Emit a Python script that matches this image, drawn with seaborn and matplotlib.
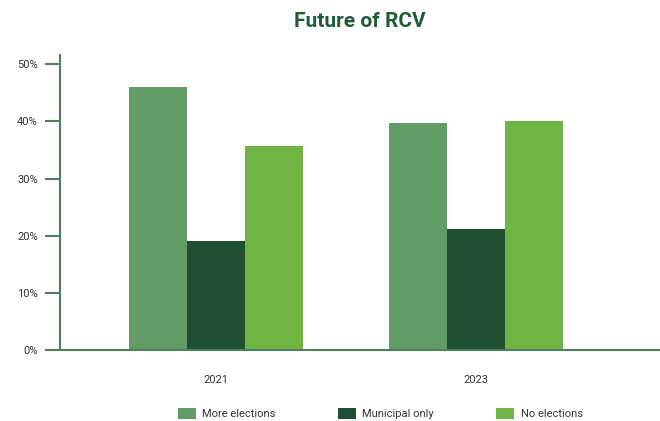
import matplotlib
matplotlib.use("Agg")
import matplotlib.pyplot as plt
import seaborn as sns
import pandas as pd
from matplotlib.ticker import FuncFormatter
from matplotlib.patches import Patch

years = ["2021", "2023"]
series = ["More elections", "Municipal only", "No elections"]
more_elections = [46.0, 39.7]
municipal_only = [19.1, 21.2]
no_elections = [35.7, 40.0]
colors = ["#629C65", "#1F4E33", "#6FB544"]

rows = []
for s, vals in zip(series, [more_elections, municipal_only, no_elections]):
    for y, v in zip(years, vals):
        rows.append({"Year": y, "Series": s, "Value": v})
df = pd.DataFrame(rows)

sns.set_theme(style="white")
plt.rcParams['font.family'] = ['Roboto', 'DejaVu Sans']

fig = plt.figure(figsize=(6.6, 4.21), dpi=100)
ax = fig.add_axes([0.0909, 0.1686, 0.9091, 0.7004])
sns.barplot(data=df, x="Year", y="Value", hue="Series", palette=colors,
            width=0.67, gap=0, saturation=1, ax=ax, legend=False,
            linewidth=0, edgecolor="none")

spine_c = "#4F7F5F"
ax.set_xlim(-0.6, 1.708)
ax.set_ylim(0, 51.6)
ax.set_yticks([0, 10, 20, 30, 40, 50])
ax.yaxis.set_major_formatter(FuncFormatter(lambda v, p: f"{int(v)}%"))
for s in ["top", "right"]:
    ax.spines[s].set_visible(False)
for s in ["left", "bottom"]:
    ax.spines[s].set_color(spine_c)
    ax.spines[s].set_linewidth(1.5)
ax.tick_params(axis="y", length=11, width=1.5, color=spine_c, labelsize=8, labelcolor="#333333", pad=5, left=True)
ax.tick_params(axis="x", length=0, labelsize=8, labelcolor="#333333", pad=18)
ax.set_xlabel("")
ax.set_ylabel("")
ax.grid(False)

fig.text(0.545, 0.95, "Future of RCV", ha="center", va="center",
         fontsize=15, fontweight="bold", color="#1F5C36")

handles = [Patch(facecolor=c, edgecolor="none", label=s) for c, s in zip(colors, series)]
fig.legend(handles=handles, loc="center", bbox_to_anchor=(0.576, 0.018), ncol=3,
           frameon=False, fontsize=8, handlelength=1.6, handleheight=1.1,
           columnspacing=5.6, handletextpad=0.6, labelcolor="#333333")

fig.savefig("out.png", dpi=100)
